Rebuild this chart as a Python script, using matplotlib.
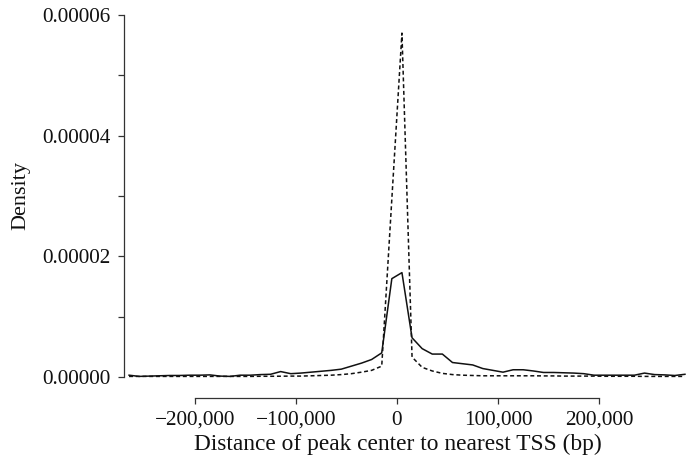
import numpy as np
import matplotlib
matplotlib.use("Agg")
import matplotlib.pyplot as plt
from matplotlib.ticker import FuncFormatter, MultipleLocator

# bin centres (bp) and densities (units of 1e-6)
centers = np.arange(-265000, 285001, 10000)
peaks_all = [0.3, 0.1, 0.15, 0.2, 0.25, 0.25, 0.3, 0.3, 0.35, 0.15,
             0.1, 0.3, 0.3, 0.4, 0.45, 0.9, 0.55, 0.65, 0.8, 0.95,
             1.1, 1.3, 1.8, 2.3, 2.9, 4.0, 16.3, 17.3, 6.5, 4.7,
             3.8, 3.8, 2.4, 2.2, 2.0, 1.4, 1.1, 0.8, 1.2, 1.2,
             1.0, 0.75, 0.75, 0.7, 0.65, 0.55, 0.3, 0.3, 0.3, 0.3,
             0.3, 0.65, 0.4, 0.35, 0.25, 0.45]
peaks_bg = [0.1, 0.1, 0.1, 0.1, 0.1, 0.1, 0.1, 0.1, 0.1, 0.1,
            0.1, 0.1, 0.1, 0.12, 0.12, 0.13, 0.15, 0.15, 0.2, 0.25,
            0.3, 0.4, 0.55, 0.8, 1.1, 1.8, 29.5, 57.0, 3.3, 1.6,
            1.0, 0.6, 0.4, 0.3, 0.25, 0.2, 0.2, 0.2, 0.2, 0.2,
            0.2, 0.18, 0.18, 0.15, 0.15, 0.15, 0.15, 0.12, 0.12, 0.12,
            0.12, 0.1, 0.1, 0.1, 0.1, 0.1]

y_all = np.array(peaks_all) * 1e-6
y_bg = np.array(peaks_bg) * 1e-6

plt.rcParams['font.family'] = ['Liberation Serif', 'DejaVu Serif']
plt.rcParams['font.size'] = 15.3

fig = plt.figure(figsize=(6.91, 4.59), dpi=100)
W, H = 691, 459
ax = fig.add_axes([124 / W, (H - 377) / H, (691 - 124) / W, (377 - 15) / H])

ax.plot(centers, y_all, color='#111111', lw=1.1, clip_on=False)
ax.plot(centers, y_bg, color='#111111', lw=1.1, ls=(0, (2.6, 1.8)), clip_on=False)

ax.set_xlim(-270000, 291000)
ax.set_ylim(0, 6e-5)

for s in ['top', 'right']:
    ax.spines[s].set_visible(False)
ax.spines['bottom'].set_position(('outward', 15))
ax.spines['bottom'].set_bounds(-200000, 200000)
ax.spines['left'].set_bounds(0, 6e-5)
for s in ['bottom', 'left']:
    ax.spines[s].set_color('#333333')
    ax.spines[s].set_linewidth(0.9)

ax.set_xticks([-200000, -100000, 0, 100000, 200000])
ax.xaxis.set_major_formatter(FuncFormatter(
    lambda v, p: f"{int(v):,}".replace('-', '\u2212')))
ax.yaxis.set_major_locator(MultipleLocator(2e-5))
ax.yaxis.set_minor_locator(MultipleLocator(1e-5))
ax.yaxis.set_major_formatter(FuncFormatter(lambda v, p: f"{v:.5f}"))
ax.tick_params(which='both', length=4.5, width=0.9, color='#333333',
               labelcolor='#111111', pad=5)

ax.set_xlabel('Distance of peak center to nearest TSS (bp)', color='#111111',
              fontsize=16.8)
# centred under the drawn x axis (0 bp), as in the original
ax.xaxis.set_label_coords((397.5 - 124) / 567, -0.158)
ax.set_ylabel('Density', color='#111111', fontsize=16, labelpad=9)

fig.savefig('out.png', dpi=100)
